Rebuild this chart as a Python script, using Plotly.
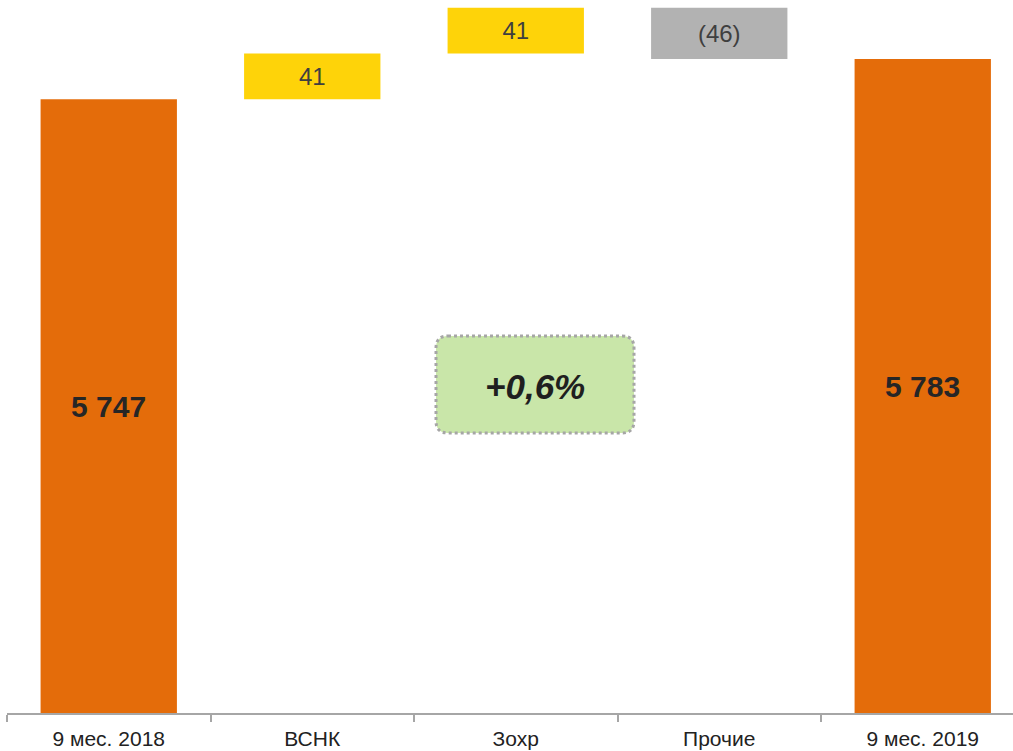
import plotly.graph_objects as go

# Revenue bridge, 9 months 2018 -> 9 months 2019
categories = ["9 мес. 2018", "ВСНК", "Зохр", "Прочие", "9 мес. 2019"]
start_value = 5747
changes = [41, 41, -46]
change_labels = ["41", "41", "(46)"]
growth_label = "+0,6%"

ORANGE = "#E46C0A"
YELLOW = "#FED309"
GREY = "#B2B2B2"
FONT = "Liberation Sans, Arial, sans-serif"

end_value = start_value + sum(changes)

def fmt(v):
    return f"{v:,}".replace(",", " ")

# Build floating bars from the running total
ys, bases, colors, texts = [], [], [], []
ys.append(start_value); bases.append(0); colors.append(ORANGE); texts.append("")
running = start_value
for d, lab in zip(changes, change_labels):
    ys.append(abs(d))
    bases.append(running if d >= 0 else running + d)
    colors.append(YELLOW if d >= 0 else GREY)
    texts.append(lab)
    running += d
ys.append(end_value); bases.append(0); colors.append(ORANGE); texts.append("")

y_min, y_max = 5196, 5836

fig = go.Figure()
fig.add_trace(go.Bar(
    x=categories, y=ys, base=bases,
    marker=dict(color=colors, line=dict(width=0)),
    width=0.67,
    text=texts, textposition="inside", insidetextanchor="middle",
    textangle=0,
    textfont=dict(family=FONT, size=24, color="#3F3F3F"),
    cliponaxis=True,
    hoverinfo="skip",
))

# Totals are labelled in the middle of their visible part
for cat, val in ((categories[0], start_value), (categories[-1], end_value)):
    fig.add_annotation(x=cat, y=(y_min + val) / 2, xref="x", yref="y",
                       text=f"<b>{fmt(val)}</b>", showarrow=False,
                       font=dict(family=FONT, size=30, color="#262626"))

# Rounded, dotted growth box in paper coordinates
W, H = 1006.0, 713.0
def px_x(p):
    return (p - 7) / W
def px_y(p):
    return (713 - p) / H

x0, x1, yt, yb, r = 436, 634, 336, 433, 12
X0, X1 = px_x(x0), px_x(x1)
YT, YB = px_y(yt), px_y(yb)
rx, ry = r / W, r / H
path = (
    f"M {X0 + rx},{YT} L {X1 - rx},{YT} Q {X1},{YT} {X1},{YT - ry} "
    f"L {X1},{YB + ry} Q {X1},{YB} {X1 - rx},{YB} "
    f"L {X0 + rx},{YB} Q {X0},{YB} {X0},{YB + ry} "
    f"L {X0},{YT - ry} Q {X0},{YT} {X0 + rx},{YT} Z"
)
fig.add_shape(type="path", path=path, xref="paper", yref="paper",
              fillcolor="#C9E6A9", line=dict(color="#A6A6A6", width=3, dash="dot"),
              layer="above")
fig.add_annotation(x=px_x(535), y=px_y(386), xref="paper", yref="paper",
                   text=f"<b><i>{growth_label}</i></b>", showarrow=False,
                   font=dict(family=FONT, size=35, color="#1F1F1F"))

fig.update_layout(
    width=1013, height=751,
    margin=dict(l=7, r=0, t=0, b=38),
    paper_bgcolor="white", plot_bgcolor="white",
    showlegend=False,
    xaxis=dict(
        type="category", range=[-0.5, -0.5 + W / 203.5],
        showline=True, linecolor="#A6A6A6", linewidth=2,
        ticks="outside", tickson="boundaries", ticklen=7, tickwidth=2, tickcolor="#A6A6A6",
        ticklabelstandoff=6,
        tickfont=dict(family=FONT, size=21, color="#222222"),
        showgrid=False, zeroline=False,
    ),
    yaxis=dict(range=[y_min, y_max], visible=False, showgrid=False, zeroline=False),
)

fig.write_html("out.html")
